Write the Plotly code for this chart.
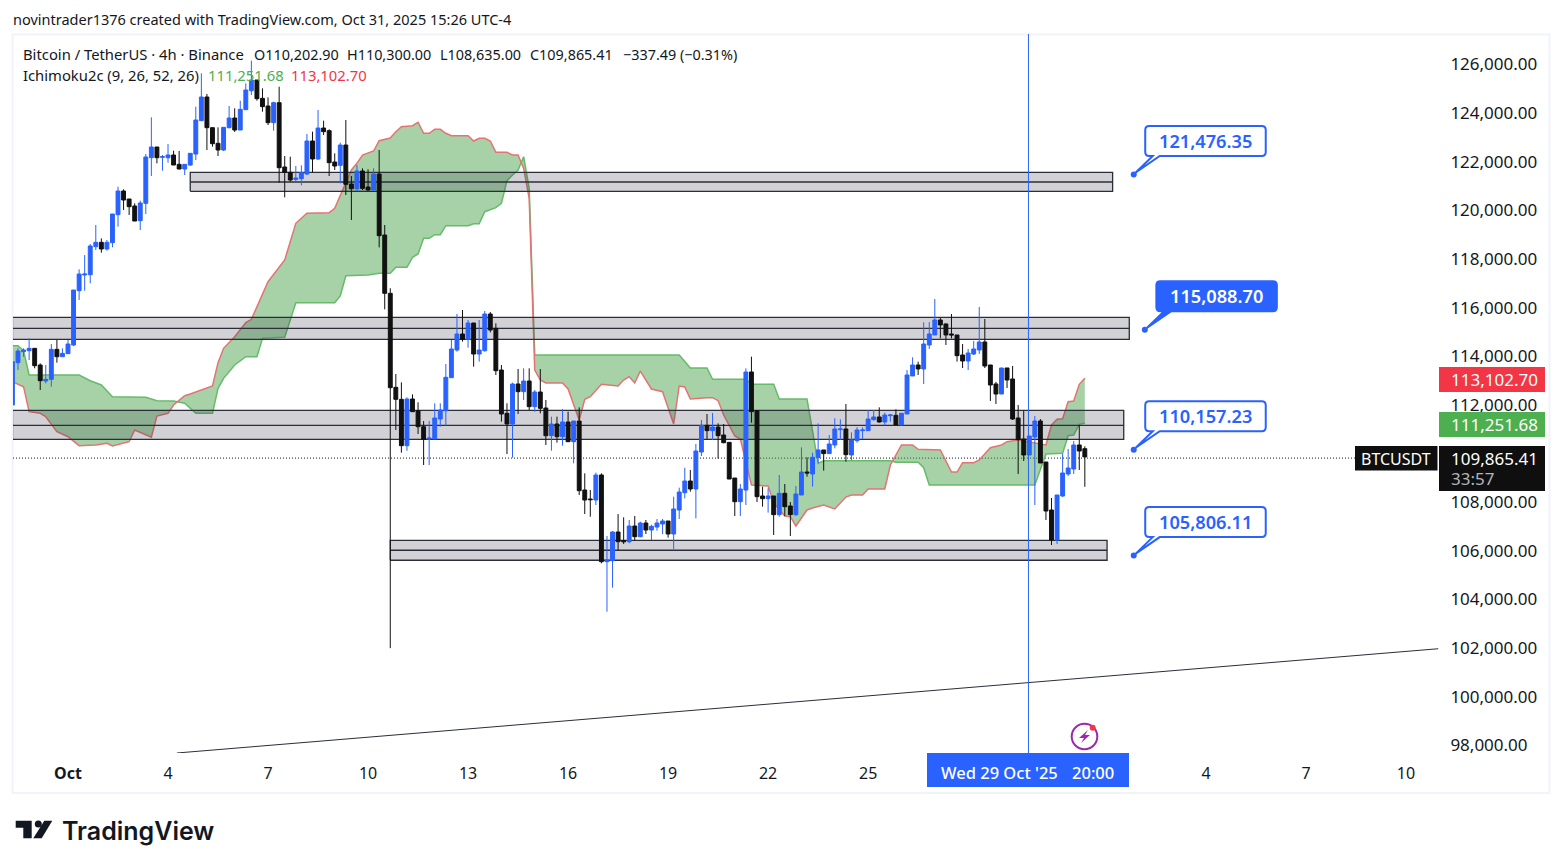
import plotly.graph_objects as go

# BTCUSDT 4h candles, bar 0 = 1 Oct 00:00
bars = list(range(-10, 184))
opens = [
    112000, 113739, 114191, 114232, 114328, 113643, 112985, 113053, 114287, 113985,
    114109, 114465, 116699, 117344, 117357, 118509, 118687, 118413, 118673, 119825,
    120798, 120469, 120181, 119578, 120291, 122168, 122607, 122182, 122168, 122278,
    121894, 121702, 121867, 122319, 123690, 124663, 123402, 122758, 122484, 123402,
    123800, 123306, 124142, 124923, 125362, 124608, 124293, 123608, 124430, 121785,
    121565, 121277, 121305, 121497, 122854, 122114, 123388, 123279, 121990, 121853,
    122689, 121086, 120894, 121620, 120962, 120839, 121497, 118988, 116590, 112725,
    112231, 110326, 112245, 111765, 111107, 110600, 110600, 111423, 111765, 113122,
    114260, 114918, 114699, 115370, 114095, 114232, 115740, 115151, 113438, 111656,
    111217, 112862, 112547, 112985, 111930, 112533, 111875, 110737, 111217, 110696,
    111299, 110490, 111340, 108503, 108133, 108092, 109120, 105556, 105597, 106776,
    106420, 106378, 107023, 106584, 107146, 106858, 106981, 107105, 107228, 106694,
    107681, 108393, 108873, 108544, 110066, 111162, 110943, 111094, 110765, 110463,
    108996, 108023, 108503, 113356, 111766, 108257, 108147, 108257, 107490, 108367,
    107846, 107490, 108298, 109244, 109162, 109833, 110149, 110000, 110354, 110985,
    111012, 109943, 110532, 110944, 110944, 111396, 111506, 111300, 111560, 111574,
    111177, 111629, 113192, 113644, 113480, 114466, 114878, 115494, 115330, 114919,
    114878, 114055, 113808, 114096, 114261, 114590, 113644, 112863, 112451, 113521,
    113068, 111464, 110601, 109943, 110683, 111341, 109655, 107681, 106448, 108257,
    109162, 109367, 110354, 110202.90,
]
highs = [
    113780, 114328, 114328, 114739, 114328, 113711, 113643, 114506, 114671, 114328,
    114671, 116727, 117576, 118165, 118618, 119400, 118851, 118783, 119852, 120976,
    120866, 120469, 120291, 120400, 122319, 123827, 122607, 122278, 122730, 122456,
    122443, 121894, 122347, 124266, 125636, 124786, 123416, 123416, 123416, 124293,
    124197, 124512, 125225, 126157, 125362, 125019, 124649, 124471, 125088, 122237,
    122210, 121826, 121853, 123142, 123238, 124129, 123690, 123334, 122347, 122785,
    123717, 121415, 121867, 121730, 121689, 121730, 122484, 119400, 116800, 113273,
    112930, 112314, 112437, 112108, 111340, 111340, 112067, 112067, 113684, 114671,
    115740, 115905, 115494, 115370, 115494, 115864, 115823, 115357, 113643, 112067,
    112917, 113479, 113506, 113506, 112615, 113479, 112204, 111519, 111519, 111834,
    111724, 111340, 111902, 109188, 108503, 109216, 109188, 106611, 106817, 107516,
    107379, 107269, 107434, 107201, 107269, 107077, 107310, 107310, 107228, 108229,
    108599, 109421, 109325, 110395, 111381, 111628, 111669, 111244, 111217, 110463,
    108996, 108750, 113507, 113987, 111766, 108641, 108572, 108257, 109121, 108750,
    108010, 108668, 110258, 109847, 110039, 111245, 110149, 110765, 111451, 111410,
    112040, 110875, 111081, 111081, 111793, 111793, 111903, 111684, 111629, 111821,
    111656, 113438, 113959, 113781, 115398, 115412, 116358, 115577, 115357, 115741,
    114878, 114507, 114302, 114631, 116029, 115535, 113644, 112945, 113521, 113521,
    113603, 112000, 111766, 110724, 111547, 111423, 109655, 108175, 108298, 109984,
    110190, 110519, 111177, 110300.00,
]
lows = [
    112000, 113437, 113985, 113848, 113506, 112615, 112889, 112752, 113739, 113985,
    114109, 114424, 116315, 116699, 117001, 118372, 118262, 118344, 118481, 119331,
    120016, 119811, 119564, 119194, 119852, 121415, 121935, 121634, 121963, 121867,
    121689, 121456, 121826, 122072, 123690, 122484, 122621, 122237, 122443, 123375,
    123224, 123306, 124142, 124745, 124512, 124060, 123512, 123279, 121140, 120537,
    121181, 121181, 121031, 121456, 121565, 122072, 123100, 121415, 121661, 121113,
    120633, 119605, 120811, 120839, 120811, 120811, 118481, 115932, 102000, 110970,
    110038, 110120, 111724, 110806, 109531, 109531, 110600, 111107, 111148, 113122,
    114191, 114603, 114356, 113575, 113780, 114191, 114986, 113232, 111313, 109983,
    109833, 111628, 112204, 111793, 111724, 111656, 110353, 110120, 110449, 110326,
    110490, 109600, 108297, 107516, 107406, 107886, 105488, 103500, 104487, 106036,
    106283, 106310, 106420, 106557, 106694, 106447, 106831, 106694, 106543, 106077,
    107310, 108160, 108434, 107338, 109901, 110586, 110559, 109792, 110422, 108955,
    107434, 107434, 107887, 111273, 108010, 107818, 107572, 106653, 107407, 107435,
    106612, 107435, 108298, 109052, 108641, 109600, 109299, 110000, 110217, 110560,
    109669, 109737, 110450, 110601, 110944, 111355, 111273, 111163, 111314, 111177,
    111177, 111629, 113192, 113233, 112863, 114302, 114878, 114740, 114466, 114740,
    113781, 113520, 113438, 114055, 114096, 113520, 112164, 112040, 112451, 112698,
    111382, 109162, 109696, 109943, 107887, 109614, 107270, 106242, 106283, 108216,
    109080, 109162, 109326, 108635.00,
]
closes = [
    113780, 114218, 114260, 114328, 113615, 112998, 113053, 114287, 113985, 114122,
    114506, 116727, 117385, 117385, 118536, 118687, 118413, 118687, 119852, 120798,
    120428, 120153, 119564, 120304, 122196, 122607, 122168, 122210, 122278, 121867,
    121702, 121894, 122347, 123717, 124663, 123402, 122744, 122484, 123416, 123800,
    123306, 124156, 124951, 125362, 124595, 124266, 123608, 124430, 121757, 121565,
    121250, 121332, 121552, 122854, 122114, 123388, 123238, 121963, 121826, 122689,
    121072, 120894, 121620, 120907, 120839, 121497, 118961, 116590, 112711, 112231,
    110326, 112245, 111724, 111107, 110586, 110641, 111464, 111793, 113136, 114301,
    114918, 114699, 115370, 114095, 114260, 115740, 115082, 113410, 111628, 111217,
    112862, 112547, 112985, 111930, 112533, 111861, 110737, 111217, 110696, 111299,
    110490, 111340, 108476, 108092, 108106, 109120, 105556, 105611, 106776, 106378,
    106378, 107023, 106584, 107146, 106858, 107009, 107146, 107228, 106694, 107722,
    108421, 108873, 108544, 110107, 111162, 110943, 111094, 110737, 110449, 108955,
    108023, 108544, 113355, 111725, 108230, 108147, 108257, 107490, 108367, 107818,
    107490, 108339, 109244, 109203, 109847, 110149, 110000, 110395, 111012, 111012,
    109957, 110560, 110971, 110971, 111423, 111506, 111300, 111588, 111588, 111177,
    111656, 113233, 113644, 113480, 114507, 114919, 115494, 115289, 114878, 114878,
    114028, 113808, 114137, 114302, 114590, 113603, 112822, 112451, 113521, 113027,
    111423, 110574, 109943, 110724, 111341, 109614, 107640, 106448, 108298, 109203,
    109408, 110354, 110108, 109865.41,
]

# Ichimoku cloud edges, only the bars where the line bends
span_a_bars = [
    -10, -9, -8, -7, 2, 4, 6, 8, 14, 16, 19, 21, 23, 26, 27, 28, 30, 32, 34, 35, 39, 41, 48, 49, 50, 54, 56, 58,
    59, 61, 62, 63, 64, 65, 66, 67, 68, 72, 73, 74, 75, 77, 78, 79, 80, 81, 82, 83, 84, 110, 112, 115, 116, 122,
    123, 127, 128, 133, 135, 136, 148, 149, 153, 154, 155, 174, 176, 179, 180, 181, 182, 183,
]
span_a = [
    114437, 114437, 114231, 113232, 113232, 112998, 112821, 112340, 112315, 112175, 112163, 112068, 111657, 111657,
    112685, 113096, 113643, 113985, 113985, 114741, 114782, 116205, 116205, 116480, 117315, 117344, 117414, 117414,
    117661, 117661, 118072, 118208, 118853, 118853, 119001, 119001, 119371, 119371, 119453, 119453, 119947, 120111,
    120292, 121222, 121456, 121662, 122209, 120909, 114054, 114054, 113520, 113520, 113055, 113055,
    112850, 112850, 112245, 112245, 109601, 109708, 109708, 109642, 109642, 109420, 108709, 108709, 109984, 110012,
    110736, 110765, 111205, 111251.68,
]
span_b_bars = [
    -10, -8, -7, -5, -4, -2, 0, 2, 5, 7, 8, 11, 12, 15, 16, 18, 19, 21, 22, 25, 26, 27, 28, 30, 32, 33, 36, 39, 41,
    43, 47, 48, 50, 51, 52, 53, 55, 56, 58, 59, 60, 62, 63, 64, 65, 66, 67, 68, 69, 72, 73, 74, 75, 76, 77, 79, 80,
    81, 82, 83, 84, 85, 86, 89, 90, 92, 93, 94, 96, 99, 100, 101, 102, 103, 105, 107, 109, 110, 111, 112, 115, 116,
    117, 118, 120, 121, 123, 126, 127, 129, 130, 131, 133, 134, 136, 138, 140, 141, 143, 144, 147, 148, 150, 152,
    153, 157, 159, 160, 161, 163, 164, 166, 168, 169, 171, 176, 177, 178, 179, 180, 181, 182, 183,
]
span_b = [
    112956, 112751, 111723, 111657, 111517, 110901, 110695, 110325, 110353, 110424, 110312, 110489, 110970, 110670,
    111546, 111657, 111998, 112381, 112451, 112700, 112780, 113738, 114330, 114807, 115383, 115522, 117068, 117961,
    119470, 119881, 119906, 120087, 121115, 121662, 121937, 122278, 122443, 122867, 122977, 123237, 123442, 123483,
    123623, 123171, 123171, 123335, 123335, 123171, 123072, 123072, 122854, 122965, 122965, 122854, 122389, 122389,
    122278, 122278, 121732, 120498, 113438, 113026, 112903, 112903, 112656, 111382, 112233, 112340, 112849, 112780,
    113026, 113162, 112903, 113396, 112656, 112545, 111217, 112780, 112739, 112245, 112299, 112299, 112175, 111587,
    110724, 110600, 108709, 108668, 107969, 107434, 107405, 107023, 107681, 107763, 107886, 107722, 108215, 108298,
    108298, 108544, 108544, 109531, 110354, 110354, 110177, 110148, 109243, 109243, 109626, 109626, 109737, 110243,
    110354, 110489, 110559, 110354, 111176, 111410, 111435, 112134, 112163, 112849, 113102.70,
]

# drawn support / resistance zones
zone_start = [22, -10, -10, 58]
zone_end = [188, 191, 190, 187]
zone_top = [121567, 115605, 111780, 106436]
zone_mid = [121168, 115152, 111163, 106025]
zone_bottom = [120786, 114700, 110583, 105614]

# price callouts
callout_bars = [191.8, 193.8, 191.8, 191.8]
callout_prices = [121476.35, 115088.70, 110157.23, 105806.11]
callout_filled = [False, True, False, False]

trend_bars = [19.6, 246.6]
trend_prices = [97689, 101976]

price_ticks = [126000, 124000, 122000, 120000, 118000, 116000, 114000, 112000, 108000, 106000, 104000, 102000, 100000, 98000]
time_ticks = [0, 18, 36, 54, 72, 90, 108, 126, 144, 204.8, 222.8, 240.8]
time_labels = ["<b>Oct</b>", "4", "7", "10", "13", "16", "19", "22", "25", "4", "7", "10"]

price_line = 109815  # where the dotted last-price line sits on the picture
cursor_bar = 172.85

FONT = "Noto Sans"
BLUE = "#2962ff"
BLACK = "#111111"
TEXT = "#131722"
GREEN = "#4caf50"
RED = "#f23645"
ZONE_EDGE = "#2a2e39"

X_RANGE = [-9.9, 247.1]
Y_RANGE = [97689, 127254]
PX_PER_BAR = 5.556
USD_PER_PX = 41.12


# helpers to place the page furniture, which sits outside the data
def px(x):
    return (x - 13) / 1428


def py(y):
    return (753 - y) / 719


def note(x, y, text, size=14.8, color=TEXT, anchor="left", weight="normal", family=FONT):
    if anchor == "left":
        x -= 1
    fig.add_annotation(
        x=px(x), y=py(y), xref="paper", yref="paper", text=text, showarrow=False,
        xanchor=anchor, yanchor="middle", borderpad=0,
        font=dict(family=family, size=size, color=color, weight=weight),
    )


def paper_rect(x0, y0, x1, y1, color):
    fig.add_shape(type="rect", xref="paper", yref="paper", x0=px(x0), x1=px(x1), y0=py(y0), y1=py(y1),
                  fillcolor=color, line_width=0, layer="above")


def callout_path(bar, price):
    # speech bubble, offsets in screen pixels from the anchor dot
    def pt(dx, dy):
        return f"{bar + dx / PX_PER_BAR} {price - dy * USD_PER_PX}"
    l, r, t, b, c = 11.5, 132, -48.5, -18.5, 4
    return (
        f"M {pt(2, -2)} L {pt(19, b)} L {pt(l + c, b)} Q {pt(l, b)} {pt(l, b - c)} L {pt(l, t + c)} "
        f"Q {pt(l, t)} {pt(l + c, t)} L {pt(r - c, t)} Q {pt(r, t)} {pt(r, t + c)} L {pt(r, b - c)} "
        f"Q {pt(r, b)} {pt(r - c, b)} L {pt(26, b)} Z"
    )


fig = go.Figure()

# cloud goes on the main axes, candles on an overlay so they stay on top
fig.add_trace(go.Scatter(x=span_a_bars, y=span_a, mode="lines", line=dict(color="#66bb6a", width=1.5),
                         hoverinfo="skip", showlegend=False))
fig.add_trace(go.Scatter(x=span_b_bars, y=span_b, mode="lines", line=dict(color="#e57373", width=1.5),
                         fill="tonexty", fillcolor="rgba(67,160,71,0.47)", hoverinfo="skip", showlegend=False))
fig.add_trace(go.Scatter(x=trend_bars, y=trend_prices, mode="lines", line=dict(color=ZONE_EDGE, width=1),
                         hoverinfo="skip", showlegend=False))

# zones are see-through and sit above the cloud, under the candles
for x0, x1, top, mid, bottom in zip(zone_start, zone_end, zone_top, zone_mid, zone_bottom):
    fig.add_trace(go.Scatter(x=[x0, x1, x1, x0, x0], y=[bottom, bottom, top, top, bottom], mode="lines",
                             fill="toself", fillcolor="rgba(50,50,70,0.22)", line=dict(color=ZONE_EDGE, width=1.3),
                             hoverinfo="skip", showlegend=False))
    fig.add_trace(go.Scatter(x=[x0, x1], y=[mid, mid], mode="lines", line=dict(color=ZONE_EDGE, width=1.3),
                             hoverinfo="skip", showlegend=False))

fig.add_trace(go.Candlestick(
    x=bars, open=opens, high=highs, low=lows, close=closes,
    increasing=dict(line=dict(color=BLUE, width=1), fillcolor=BLUE),
    decreasing=dict(line=dict(color=BLACK, width=1), fillcolor=BLACK),
    xaxis="x2", yaxis="y2", showlegend=False,
))
fig.add_trace(go.Scatter(x=callout_bars, y=callout_prices, mode="markers", marker=dict(color=BLUE, size=6),
                         xaxis="x2", yaxis="y2", hoverinfo="skip", showlegend=False))

fig.add_shape(type="line", x0=X_RANGE[0], x1=231.6, y0=price_line, y1=price_line,
              line=dict(color=TEXT, width=1, dash="1px,2px"), layer="below")
fig.add_shape(type="line", x0=cursor_bar, x1=cursor_bar, y0=0, y1=1, yref="paper",
              line=dict(color=BLUE, width=1), layer="above")

for bar, price, filled in zip(callout_bars, callout_prices, callout_filled):
    fig.add_shape(type="path", path=callout_path(bar, price), fillcolor=BLUE if filled else "white",
                  line=dict(color=BLUE, width=2), layer="above")
    fig.add_annotation(x=bar, y=price, text=f"{price:,.2f}", showarrow=False, xshift=71.5, yshift=34,
                       font=dict(family=FONT, size=18.2, color="white" if filled else BLUE, weight=600))

# outer frame of the chart
fig.add_shape(type="rect", xref="paper", yref="paper", x0=px(12.5), x1=px(1549.5), y0=py(793), y1=py(34.5),
              line=dict(color="#f0f3fa", width=2), layer="below")

# header texts
note(13, 19, "novintrader1376 created with TradingView.com, Oct 31, 2025 15:26 UTC-4", size=14.5)
note(23, 54, "Bitcoin / TetherUS · 4h · Binance")
note(253.5, 54, "O110,202.90", size=14.4)
note(347, 54, "H110,300.00", size=14.4)
note(440, 54, "L108,635.00", size=14.4)
note(530, 54, "C109,865.41", size=14.4)
note(623, 54, "−337.49 (−0.31%)", size=14.4)
note(23, 75, "Ichimoku2c (9, 26, 52, 26)")
note(208, 75, "111,251.68", color=GREEN)
note(291, 75, "113,102.70", color=RED)

# price scale tags
paper_rect(1439, 367, 1545, 392, RED)
note(1451, 379.5, "113,102.70", size=17, color="white")
paper_rect(1439, 412, 1545, 437, GREEN)
note(1451, 424.5, "111,251.68", size=17, color="white")
paper_rect(1439, 446, 1545, 491, "#0f0f0f")
note(1451, 458, "109,865.41", size=17, color="white")
note(1451, 478, "33:57", size=17, color="#b2b5be")
paper_rect(1355, 446, 1437.5, 470.5, "#0f0f0f")
note(1396, 458.5, "BTCUSDT", size=16, color="white", anchor="center")

# crosshair date tag
paper_rect(927, 753, 1129, 787, BLUE)
note(941, 772, "Wed 29 Oct '25", size=16.5, color="white", weight=500)
note(1072, 772, "20:00", size=16.5, color="white", weight=500)

# flash icon
fig.add_shape(type="circle", xref="paper", yref="paper", x0=px(1071.7), x1=px(1097.3), y0=py(749.3), y1=py(723.7),
              line=dict(color="#9c27b0", width=2), layer="above")
bolt = [(1088, 730), (1079, 738), (1084, 738), (1081, 743), (1090, 735), (1085, 735)]
fig.add_shape(type="path", xref="paper", yref="paper", fillcolor="#9c27b0", line_width=0, layer="above",
              path="M " + " L ".join(f"{px(a)} {py(b)}" for a, b in bolt) + " Z")
fig.add_shape(type="circle", xref="paper", yref="paper", x0=px(1089.7), x1=px(1095.7), y0=py(730.7), y1=py(724.7),
              fillcolor=RED, line_width=0, layer="above")

# TradingView logo
logo_t = [(15.7, 820.7), (31.7, 820.7), (31.7, 838.3), (23.3, 838.3), (23.3, 827.7), (15.7, 827.7)]
logo_v = [(44.3, 820.7), (52.3, 820.7), (41.7, 838.3), (33.3, 838.3)]
for part in (logo_t, logo_v):
    fig.add_shape(type="path", xref="paper", yref="paper", fillcolor=TEXT, line_width=0, layer="above",
                  path="M " + " L ".join(f"{px(a)} {py(b)}" for a, b in part) + " Z")
fig.add_shape(type="circle", xref="paper", yref="paper", x0=px(34.8), x1=px(41.8), y0=py(827.5), y1=py(820.5),
              fillcolor=TEXT, line_width=0, layer="above")
note(62, 830.5, "TradingView", size=25, weight=600, family="Inter")

fig.update_layout(
    width=1563, height=868,
    margin=dict(l=13, r=122, t=34, b=115),
    paper_bgcolor="white", plot_bgcolor="white",
    font=dict(family=FONT, color=TEXT),
    showlegend=False,
    boxgap=0,
    xaxis=dict(range=X_RANGE, tickmode="array", tickvals=time_ticks, ticktext=time_labels, showgrid=False,
               zeroline=False, showline=False, ticks="outside", ticklen=6, tickcolor="rgba(0,0,0,0)",
               tickfont=dict(size=16, color=TEXT)),
    yaxis=dict(range=Y_RANGE, side="right", tickmode="array", tickvals=price_ticks,
               ticktext=[f"{p:,.2f}" for p in price_ticks], showgrid=False, zeroline=False, showline=False,
               ticks="outside", ticklen=5, tickcolor="rgba(0,0,0,0)", tickfont=dict(size=17, color=TEXT)),
    xaxis2=dict(range=X_RANGE, overlaying="x", visible=False, rangeslider=dict(visible=False)),
    yaxis2=dict(range=Y_RANGE, overlaying="y", visible=False),
)

fig.write_html("out.html", config={"displayModeBar": False}, post_script="document.body.style.margin='0';")
